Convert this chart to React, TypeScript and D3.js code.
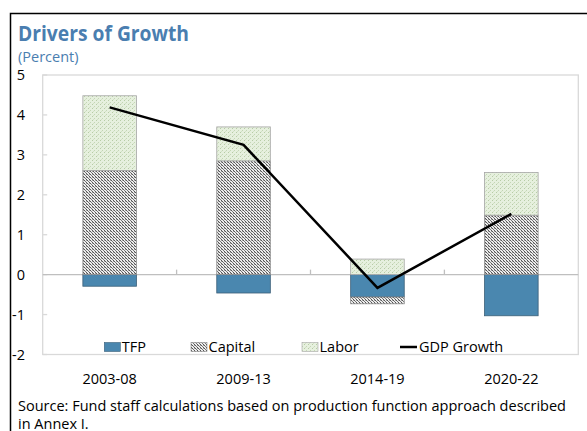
import React from "react";
import * as d3 from "d3";

const categories = ["2003-08", "2009-13", "2014-19", "2020-22"];
const tfp = [-0.29, -0.46, -0.56, -1.03];
const capital = [2.61, 2.85, -0.17, 1.49];
const labor = [1.87, 0.85, 0.39, 1.07];
const gdp = [4.19, 3.25, -0.33, 1.52];
const yTicks = [-2, -1, 0, 1, 2, 3, 4, 5];
const seriesKeys = ["TFP", "Capital", "Labor"];
const legendLabels = ["TFP", "Capital", "Labor", "GDP Growth"];

const W = 587;
const H = 431;
const FONT = "'Open Sans', 'Noto Sans', sans-serif";

export default function App() {
  const left = 42.7;
  const right = 578.3;
  const top = 75;
  const bottom = 354.5;

  const x = d3
    .scaleBand<string>()
    .domain(categories)
    .range([left, right])
    .paddingInner(0.6)
    .paddingOuter(0.3);
  const y = d3.scaleLinear().domain([-2, 5]).range([bottom, top]);

  const rows = categories.map((c, i) => ({
    cat: c,
    TFP: tfp[i],
    Capital: capital[i],
    Labor: labor[i],
  }));
  const stack = d3
    .stack<any>()
    .keys(seriesKeys)
    .offset(d3.stackOffsetDiverging);
  const stacked = stack(rows);

  const fills: Record<string, string> = {
    TFP: "#4A87AF",
    Capital: "url(#capPat)",
    Labor: "url(#labPat)",
  };
  const strokes: Record<string, string> = {
    TFP: "#3B5F78",
    Capital: "#8C8C8C",
    Labor: "#A6A6A6",
  };

  const line = d3
    .line<number>()
    .x((_, i) => (x(categories[i]) as number) + x.bandwidth() / 2)
    .y((d) => y(d));

  const step = x.step();
  const boundaries = categories.slice(1).map((c) => (x(c) as number) - (step - x.bandwidth()) / 2);

  const legendItems = [
    { label: legendLabels[0], sx: 104.3, kind: "TFP" },
    { label: legendLabels[1], sx: 191, kind: "Capital" },
    { label: legendLabels[2], sx: 302, kind: "Labor" },
    { label: legendLabels[3], sx: 400, kind: "line" },
  ];

  return (
    <svg
      width={W}
      height={H}
      style={{ position: "absolute", left: 0, top: 0, background: "#fff" }}
      fontFamily={FONT}
    >
      <defs>
        <pattern id="capPat" width="3" height="3" patternUnits="userSpaceOnUse">
          <rect width="3" height="3" fill="#EDEDED" />
          <rect x="0" y="0" width="1" height="1" fill="#555" />
          <rect x="1" y="1" width="1" height="1" fill="#777" />
          <rect x="2" y="2" width="1" height="1" fill="#555" />
          <rect x="2" y="0" width="1" height="1" fill="#A8A8A8" />
        </pattern>
        <pattern id="labPat" width="4" height="4" patternUnits="userSpaceOnUse">
          <rect width="4" height="4" fill="#E6F0DE" />
          <rect x="0" y="0" width="1" height="1" fill="#B7CCA6" />
          <rect x="2" y="2" width="1" height="1" fill="#C4D6B5" />
          <rect x="1" y="3" width="1" height="1" fill="#D2E0C6" />
        </pattern>
      </defs>

      {/* outer border */}
      <rect x={10.5} y={13.5} width={590} height={440} fill="none" stroke="#000" strokeWidth={1.5} />

      {/* title */}
      <text x={18} y={41} fontSize={20.5} fontWeight={700} fill="#4A7EB0" textLength={171} lengthAdjust="spacingAndGlyphs">
        Drivers of Growth
      </text>
      <text x={18} y={62} fontSize={14.5} fill="#4A7EB0">
        (Percent)
      </text>

      {/* plot frame */}
      <rect
        x={left}
        y={top}
        width={right - left}
        height={bottom - top}
        fill="none"
        stroke="#D9D9D9"
        strokeWidth={1.3}
      />

      {/* y axis ticks + labels */}
      {yTicks.map((t) => (
        <g key={t}>
          <line x1={left} x2={left + 4.5} y1={y(t)} y2={y(t)} stroke="#D9D9D9" strokeWidth={1.3} />
          <text x={25} y={y(t) + 5} fontSize={14.5} textAnchor="end" fill="#000">
            {t}
          </text>
        </g>
      ))}

      {/* zero line */}
      <line x1={left} x2={right} y1={y(0)} y2={y(0)} stroke="#BFBFBF" strokeWidth={1.3} />
      {boundaries.map((b, i) => (
        <line key={i} x1={b} x2={b} y1={y(0)} y2={y(0) - 5} stroke="#BFBFBF" strokeWidth={1.3} />
      ))}

      {/* bars */}
      {stacked.map((s) =>
        s.map((d, i) => {
          const y0 = y(d[0]);
          const y1 = y(d[1]);
          return (
            <rect
              key={s.key + i}
              x={x(categories[i])}
              width={x.bandwidth()}
              y={Math.min(y0, y1)}
              height={Math.abs(y1 - y0)}
              fill={fills[s.key]}
              stroke={strokes[s.key]}
              strokeWidth={0.8}
            />
          );
        })
      )}

      {/* GDP line */}
      <path d={line(gdp) || ""} fill="none" stroke="#000" strokeWidth={2.5} />

      {/* x labels */}
      {categories.map((c) => (
        <text
          key={c}
          x={(x(c) as number) + x.bandwidth() / 2}
          y={384}
          fontSize={14.5}
          textAnchor="middle"
          fill="#000"
        >
          {c}
        </text>
      ))}

      {/* legend */}
      {legendItems.map((it) => (
        <g key={it.label}>
          {it.kind === "line" ? (
            <line x1={it.sx} x2={it.sx + 17} y1={347} y2={347} stroke="#000" strokeWidth={2.5} />
          ) : (
            <rect
              x={it.sx}
              y={342.5}
              width={16}
              height={9}
              fill={fills[it.kind]}
              stroke={strokes[it.kind]}
              strokeWidth={0.6}
            />
          )}
          <text x={it.sx + (it.kind === "line" ? 19 : 17.5)} y={352} fontSize={14.5} fill="#000">
            {it.label}
          </text>
        </g>
      ))}

      {/* source */}
      <text x={18} y={411} fontSize={14.5} fill="#000" textLength={548} lengthAdjust="spacingAndGlyphs">
        Source: Fund staff calculations based on production function approach described
      </text>
      <text x={18} y={429} fontSize={14.5} fill="#000">
        in Annex I.
      </text>
    </svg>
  );
}
